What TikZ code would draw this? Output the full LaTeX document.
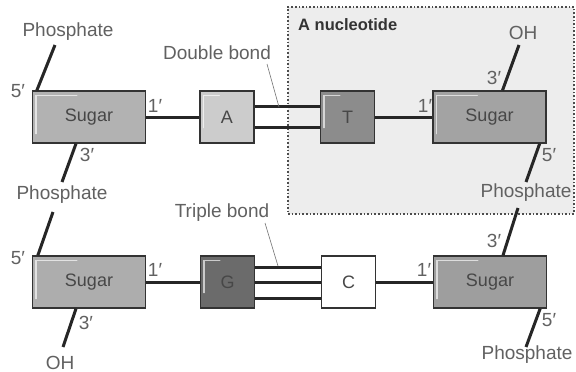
\documentclass[tikz,border=0pt]{standalone}
\usepackage{fontspec}
\setmainfont{Liberation Sans}
\newcommand\pr{′}
\begin{document}
\begin{tikzpicture}[x=1pt,y=-1pt,
  lbl/.style={text=black!62, font=\fontsize{19}{21}\selectfont, inner sep=0pt},
  boxbase/.style={draw=black!80, line width=1.3pt, rectangle, inner sep=0pt,
    minimum height=52pt, text=black!72, font=\fontsize{18}{20}\selectfont},
  sugarbox/.style={boxbase, minimum width=113pt},
  basebox/.style={boxbase, minimum width=54pt},
  link/.style={draw=black!85, line width=3pt},
  leader/.style={draw=black!55, line width=0.6pt},
  hl/.style={draw=white, draw opacity=0.65, line width=1.3pt, line cap=round}
]
\useasboundingbox (0,0) rectangle (576,372);
\fill[white] (0,0) rectangle (576,372);
% nucleotide frame
\node[draw=black!70, dotted, line width=1.6pt, fill=black!7, rectangle, inner sep=0pt,
  minimum width=286pt, minimum height=207pt] (frame) at (431,110.5) {};
\node[anchor=west, font=\bfseries\fontsize{16.5}{18}\selectfont, text=black!80, inner sep=0pt] (nuc) at (298,25) {A nucleotide};

% top row
\node[sugarbox, fill=black!30] (s1) at (89,117) {Sugar};
\node[basebox, fill=black!20] (A) at (227,117) {A};
\node[basebox, fill=black!45] (T) at (347.5,117) {T};
\node[sugarbox, fill=black!36] (s2) at (489.5,117) {Sugar};
% bottom row
\node[sugarbox, fill=black!32] (s3) at (89,282) {Sugar};
\node[basebox, fill=black!58] (G) at (227.5,282) {G};
\node[basebox, fill=white] (C) at (348.5,282) {C};
\node[sugarbox, fill=black!38] (s4) at (490,282) {Sugar};

% highlights
\foreach \n in {s1,s2,s3,s4} {
  \draw[hl] ([shift={(4,-10)}]\n.south west) -- ([shift={(4,5)}]\n.north west) -- ([shift={(45,5)}]\n.north west);
}
\foreach \n in {A,T,G} {
  \draw[hl] ([shift={(4,-16)}]\n.south west) -- ([shift={(4,5)}]\n.north west) -- ([shift={(20,5)}]\n.north west);
}

% backbone links
\draw[link] (s1.east) -- (A.west);
\draw[link] (T.east) -- (s2.west);
\draw[link] (s3.east) -- (G.west);
\draw[link] (C.east) -- (s4.west);
% double bond
\draw[link] ([yshift=-10.5pt]A.east) -- ([yshift=-10.5pt]T.west);
\draw[link] ([yshift=10.5pt]A.east) -- ([yshift=10.5pt]T.west);
% triple bond
\draw[link] ([yshift=-16pt]G.east) -- ([yshift=-16pt]C.west);
\draw[link] (G.east) -- (C.west);
\draw[link] ([yshift=15pt]G.east) -- ([yshift=15pt]C.west);

% labels
\node[lbl] (ph1) at (68,32) {Phosphate};
\node[lbl] (ph2) at (62,195) {Phosphate};
\node[lbl] (ph3) at (526,193) {Phosphate};
\node[lbl] (ph4) at (527,355) {Phosphate};
\node[lbl] (oh1) at (523,33) {OH};
\node[lbl] (oh2) at (60,363) {OH};
\node[lbl] (db) at (217,53) {Double bond};
\node[lbl] (tb) at (222,213) {Triple bond};
\node[lbl] (p5a) at (18,91) {5\pr};
\node[lbl] (p3a) at (87,155) {3\pr};
\node[lbl] (p1a) at (155,106) {1\pr};
\node[lbl] (p3b) at (494,78) {3\pr};
\node[lbl] (p5b) at (549,155) {5\pr};
\node[lbl] (p1b) at (425,106) {1\pr};
\node[lbl] (p5c) at (18,258) {5\pr};
\node[lbl] (p3c) at (86,323) {3\pr};
\node[lbl] (p1c) at (155,270) {1\pr};
\node[lbl] (p3d) at (494,241) {3\pr};
\node[lbl] (p5d) at (549,320) {5\pr};
\node[lbl] (p1d) at (424,270) {1\pr};

% phosphate / OH stems
\coordinate (e1) at (55,45);
\coordinate (e2) at (62,182);
\coordinate (e3) at (53,212);
\coordinate (e4) at (63,347);
\coordinate (e5) at (519,45);
\coordinate (e6) at (526,182);
\coordinate (e7) at (518,208);
\coordinate (e8) at (526,347);
\draw[link] ([xshift=5pt]s1.north west) -- (e1);
\draw[link] ([xshift=-13pt]s1.south) -- (e2);
\draw[link] (e3) -- ([xshift=6pt]s3.north west);
\draw[link] ([xshift=-13pt]s3.south) -- (e4);
\draw[link] ([xshift=13pt]s2.north) -- (e5);
\draw[link] ([xshift=-7pt]s2.south east) -- (e6);
\draw[link] (e7) -- ([xshift=13pt]s4.north);
\draw[link] ([xshift=-7pt]s4.south east) -- (e8);

% leaders
\coordinate (d1) at (267,64);
\coordinate (t1) at (265,223);
\draw[leader] (d1) -- (279,107);
\draw[leader] (t1) -- (278,266);
\end{tikzpicture}
\end{document}
